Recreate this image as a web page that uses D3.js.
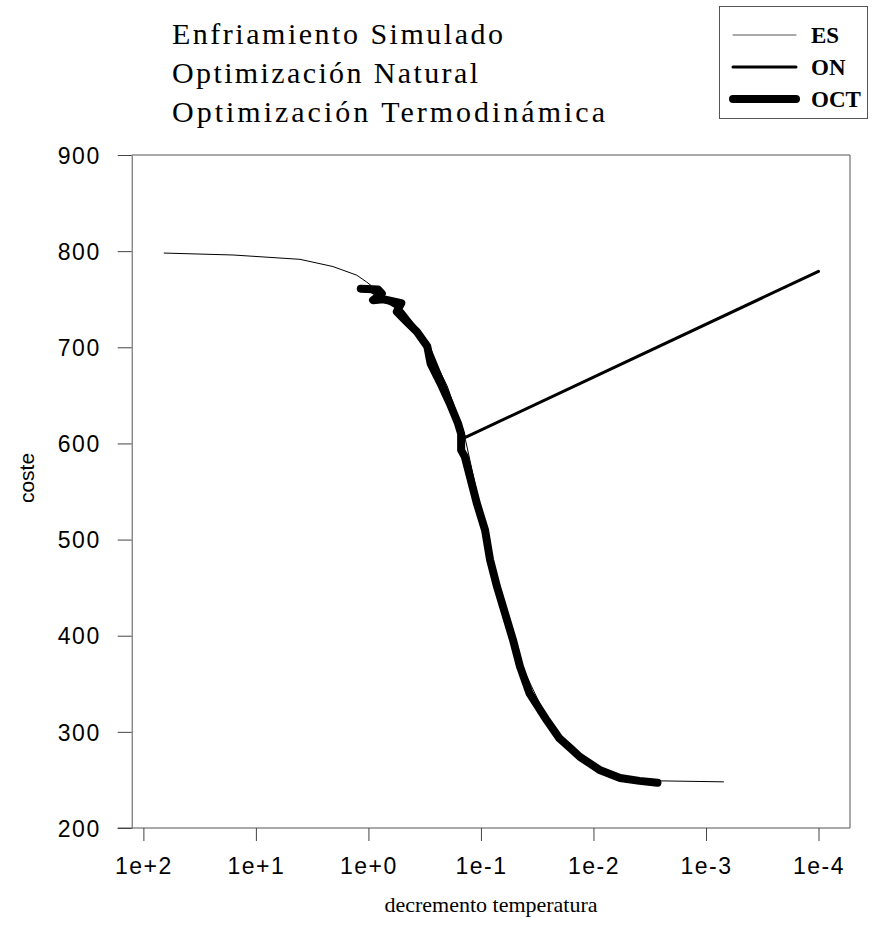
<!DOCTYPE html>
<html lang="es">
    <head>
        <meta charset="utf-8">
        <title>coste vs decremento temperatura</title>
        <script src="https://d3js.org/d3.v7.min.js"></script>
        <style>
            body { margin: 0; background: #fff; }
            .tick text { font-family: "Liberation Sans", Arial, sans-serif; font-size: 23px; fill: #000; letter-spacing: 1.5px; }
            .tick line { stroke: #444; }
            .domain { stroke: #555; }
        </style>
    </head>
    <body>
        <script type="text/javascript">
            // data (temperature decrement, cost)
            var es_temp = [65.3, 16.0, 4.06, 2.07, 1.27, 1.04, 0.79, 0.50, 0.32, 0.20, 0.141, 0.10, 0.063, 0.040, 0.025, 0.0158, 0.010, 0.005, 0.0025, 0.0007];
            var es_cost = [798, 796, 791.5, 784, 775, 768, 757, 738, 708, 660, 610, 530, 430, 360, 310, 283, 265, 252, 249, 248];

            var on_temp = [1.0, 0.7, 0.5, 0.3, 0.2, 0.139, 0.0001];
            var on_cost = [760, 748, 738, 705, 655, 606, 779];

            var oct_temp = [1.17, 0.82, 0.76, 0.91, 0.74, 0.51, 0.56, 0.47, 0.37, 0.30, 0.28, 0.23, 0.19, 0.16, 0.15, 0.15, 0.139, 0.125, 0.109, 0.092, 0.083, 0.072, 0.061, 0.052, 0.045, 0.037, 0.026, 0.020, 0.016, 0.0132, 0.0087, 0.0058, 0.0039, 0.0027];
            var oct_cost = [761, 760, 756, 749, 750, 746, 737, 728, 716, 701, 683, 663, 642, 621, 610, 593, 586, 565, 538, 510, 479, 451, 423, 396, 368, 340, 312, 293, 283, 274, 260, 252, 249, 247];

            var x_ticks = [1e2, 1e1, 1e0, 1e-1, 1e-2, 1e-3, 1e-4];
            var x_tick_labels = ["1e+2", "1e+1", "1e+0", "1e-1", "1e-2", "1e-3", "1e-4"];
            var y_ticks = [200, 300, 400, 500, 600, 700, 800, 900];

            var title_lines = ["Enfriamiento Simulado", "Optimización Natural", "Optimización Termodinámica"];
            var legend_names = ["ES", "ON", "OCT"];

            var width = 872, height = 930;
            var plot_left = 131.7, plot_right = 850, plot_top = 155, plot_bottom = 828;

            var svg = d3.select("body")
                .append("svg")
                .attr("width", width)
                .attr("height", height);

            var x = d3.scaleLog().domain([127, 5.25e-5]).range([plot_left, plot_right]);
            var y = d3.scaleLinear().domain([200, 900]).range([plot_bottom, plot_top]);

            // frame
            svg.append("line").attr("x1", plot_left).attr("x2", plot_right).attr("y1", plot_top).attr("y2", plot_top).attr("stroke", "#555");
            svg.append("line").attr("x1", plot_right).attr("x2", plot_right).attr("y1", plot_top).attr("y2", plot_bottom).attr("stroke", "#555");
            svg.append("line").attr("x1", plot_left - 14).attr("x2", plot_right).attr("y1", plot_bottom).attr("y2", plot_bottom).attr("stroke", "#555");

            svg.append("g")
                .attr("transform", "translate(0," + plot_bottom + ")")
                .call(d3.axisBottom(x)
                    .tickValues(x_ticks)
                    .tickSize(13)
                    .tickPadding(17)
                    .tickSizeOuter(0)
                    .tickFormat(function (d, i) { return x_tick_labels[i]; }))
                .call(function (g) { g.select(".domain").remove(); });

            svg.append("g")
                .attr("transform", "translate(" + plot_left + ",0)")
                .call(d3.axisLeft(y)
                    .tickValues(y_ticks)
                    .tickSize(14)
                    .tickPadding(17)
                    .tickSizeOuter(0))
                .call(function (g) { g.selectAll(".tick text").attr("dy", "0.36em"); });

            // axis titles
            svg.append("text")
                .attr("x", 491)
                .attr("y", 912)
                .attr("text-anchor", "middle")
                .attr("font-family", "Liberation Serif, Times New Roman, serif")
                .attr("font-size", 22)
                .text("decremento temperatura");

            svg.append("text")
                .attr("transform", "translate(34,478) rotate(-90)")
                .attr("text-anchor", "middle")
                .attr("font-family", "Liberation Sans, Arial, sans-serif")
                .attr("font-size", 21)
                .text("coste");

            // series
            function make_points(ts, cs) {
                return ts.map(function (t, i) { return [t, cs[i]]; });
            }
            var line = d3.line()
                .x(function (d) { return x(d[0]); })
                .y(function (d) { return y(d[1]); });

            var series = [
                { name: "ES", pts: make_points(es_temp, es_cost), w: 1 },
                { name: "ON", pts: make_points(on_temp, on_cost), w: 3 },
                { name: "OCT", pts: make_points(oct_temp, oct_cost), w: 8 }
            ];

            svg.selectAll("path.serie")
                .data(series)
                .enter()
                .append("path")
                .attr("class", "serie")
                .attr("d", function (d) { return line(d.pts); })
                .attr("fill", "none")
                .attr("stroke", "#000")
                .attr("stroke-width", function (d) { return d.w; })
                .attr("stroke-linejoin", "round")
                .attr("stroke-linecap", "round");

            // title lines
            var title_lengths = [331, 306, 433];
            svg.selectAll("text.title")
                .data(title_lines)
                .enter()
                .append("text")
                .attr("class", "title")
                .attr("x", 172)
                .attr("y", function (d, i) { return 44 + i * 38.8; })
                .attr("font-family", "Liberation Serif, Times New Roman, serif")
                .attr("font-size", 30)
                .attr("textLength", function (d, i) { return title_lengths[i]; })
                .attr("lengthAdjust", "spacing")
                .text(function (d) { return d; });

            // legend
            svg.append("rect")
                .attr("x", 719.5)
                .attr("y", 6.5)
                .attr("width", 148)
                .attr("height", 112)
                .attr("fill", "none")
                .attr("stroke", "#555");

            var legend = svg.selectAll("g.legend")
                .data(series)
                .enter()
                .append("g")
                .attr("class", "legend")
                .attr("transform", function (d, i) { return "translate(0," + (35 + i * 32) + ")"; });

            legend.append("line")
                .attr("x1", 733)
                .attr("x2", 796)
                .attr("y1", 0)
                .attr("y2", 0)
                .attr("stroke", function (d) { return d.w == 1 ? "#555" : "#000"; })
                .attr("stroke-width", function (d) { return d.w; })
                .attr("stroke-linecap", "round");

            legend.append("text")
                .attr("x", 811)
                .attr("y", 8)
                .attr("font-family", "Liberation Serif, Times New Roman, serif")
                .attr("font-size", 23)
                .attr("font-weight", "bold")
                .text(function (d, i) { return legend_names[i]; });
        </script>
    </body>
</html>
